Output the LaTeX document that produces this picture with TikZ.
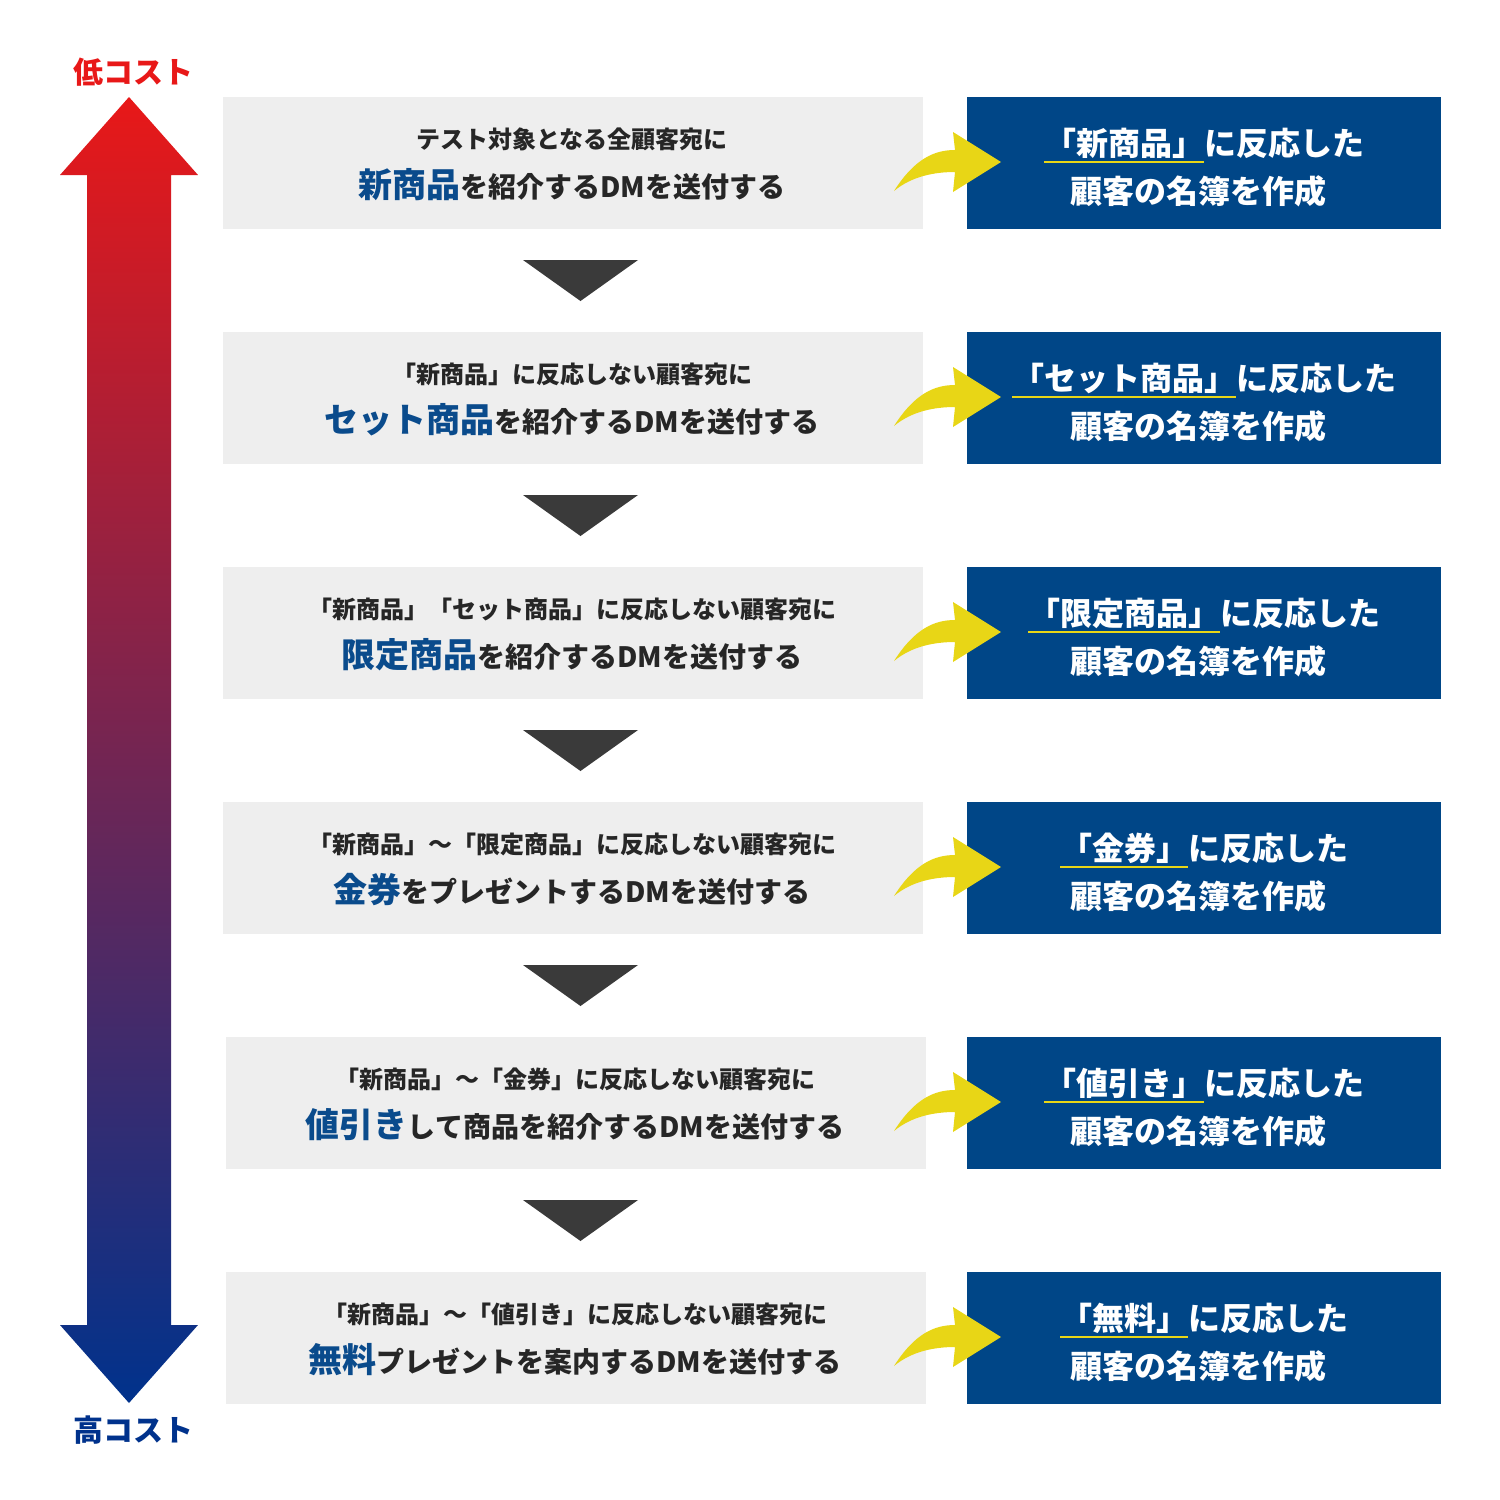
\documentclass[tikz,border=0pt]{standalone}
\usepackage{fontspec}
\setmainfont{Noto Sans CJK JP}
\usetikzlibrary{shapes.geometric}
\definecolor{gbox}{RGB}{238,238,238}
\definecolor{nbox}{RGB}{0,70,135}
\definecolor{hl}{RGB}{10,75,140}
\definecolor{tri}{RGB}{58,58,58}
\definecolor{ylw}{RGB}{232,214,22}
\definecolor{topred}{RGB}{232,24,24}
\definecolor{botblue}{RGB}{0,50,140}
\newcommand\yul[1]{\setbox0\hbox{#1}\rlap{\color{ylw}\rule[-8pt]{\wd0}{2.5pt}}\box0}
\newcommand\HL[1]{{\fontsize{34pt}{40pt}\selectfont\color{hl}#1}}
\tikzset{
 lbox/.style={fill=gbox,draw=none,minimum width=700pt,minimum height=132pt,inner sep=0pt},
 rbox/.style={fill=nbox,draw=none,minimum width=474pt,minimum height=132pt,inner sep=0pt},
 ltext/.style={align=center,text=black!85,font=\bfseries,inner sep=0pt},
 rtext/.style={align=center,text=white,font=\fontsize{32pt}{48pt}\selectfont\bfseries,inner sep=0pt},
 downtri/.style={fill=tri,draw=none},
 yarrow/.style={fill=ylw,draw=none}
}
\begin{document}
\begin{tikzpicture}[x=1pt,y=-1pt]
\useasboundingbox (0,0) rectangle (1500,1500);
% gradient double arrow
\shade[top color=topred,bottom color=botblue]
 (129,97) -- (198,175) -- (171,175) -- (171,1325) -- (198,1325) -- (129,1403) -- (60,1325) -- (87,1325) -- (87,175) -- (60,175) -- cycle;
\node[text=topred,font=\fontsize{30pt}{36pt}\selectfont\bfseries] (lo) at (133,72) {低コスト};
\node[text=botblue,font=\fontsize{30pt}{36pt}\selectfont\bfseries] (hi) at (133,1430) {高コスト};
\foreach \i/\dx/\la/\lb/\ra/\rb in {
 0/0/{テスト対象となる全顧客宛に}/{\HL{新商品}を紹介するDMを送付する}/{\yul{「新商品」}に反応した}/{顧客の名簿を作成},
 1/0/{「新商品」に反応しない顧客宛に}/{\HL{セット商品}を紹介するDMを送付する}/{\yul{「セット商品」}に反応した}/{顧客の名簿を作成},
 2/0/{「新商品」「セット商品」に反応しない顧客宛に}/{\HL{限定商品}を紹介するDMを送付する}/{\yul{「限定商品」}に反応した}/{顧客の名簿を作成},
 3/0/{「新商品」～「限定商品」に反応しない顧客宛に}/{\HL{金券}をプレゼントするDMを送付する}/{\yul{「金券」}に反応した}/{顧客の名簿を作成},
 4/3/{「新商品」～「金券」に反応しない顧客宛に}/{\HL{値引き}して商品を紹介するDMを送付する}/{\yul{「値引き」}に反応した}/{顧客の名簿を作成},
 5/3/{「新商品」～「値引き」に反応しない顧客宛に}/{\HL{無料}プレゼントを案内するDMを送付する}/{\yul{「無料」}に反応した}/{顧客の名簿を作成}}{
 \pgfmathsetmacro\cy{163+235*\i}
 \node[lbox] (L\i) at (572.5+\dx,\cy) {};
 \node[rbox] (R\i) at (1204,\cy) {};
 \node[ltext,font=\fontsize{24pt}{30pt}\selectfont\bfseries] (LA\i) at (572+\dx,\cy-24) {\la};
 \node[ltext,font=\fontsize{28pt}{34pt}\selectfont\bfseries,anchor=base] (LB\i) at (572+\dx,\cy+34) {\lb};
 \node[rtext,anchor=base] (RA\i) at (1204,\cy-8) {\ra};
 \node[rtext,anchor=base] (RB\i) at (1198,\cy+40) {\rb};
 \fill[yarrow] (894,\cy+28) .. controls (915,\cy-5) and (935,\cy-13) .. (955,\cy-13)
   -- (953,\cy-31) -- (1001,\cy-1) -- (953,\cy+29) -- (955,\cy+9)
   .. controls (935,\cy+9) and (912,\cy+13) .. cycle;
}
\foreach \i in {0,...,4}{
 \pgfmathsetmacro\ty{260+235*\i}
 \fill[downtri] (523,\ty) -- (638,\ty) -- (580.5,\ty+41) -- cycle;
}
\end{tikzpicture}
\end{document}
